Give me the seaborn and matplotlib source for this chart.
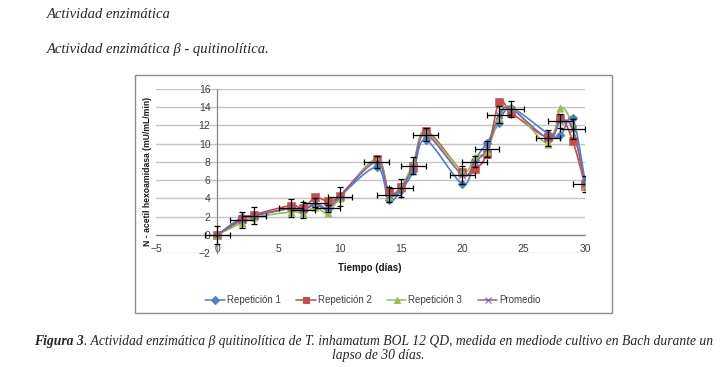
import numpy as np
import pandas as pd
import matplotlib
matplotlib.use("Agg")
import matplotlib.pyplot as plt
import seaborn as sns
from matplotlib.lines import Line2D
from matplotlib.patches import Rectangle

# datos
dias = [0, 2, 3, 6, 7, 8, 9, 10, 13, 14, 15, 16, 17, 20, 21, 22, 23, 24, 27, 28, 29, 30]
rep1 = [0, 1.9, 2.1, 2.9, 2.7, 3.3, 2.8, 4.2, 7.4, 3.8, 4.9, 7.0, 10.4, 5.6, 8.2, 10.1,
        12.3, 13.9, 11.1, 10.9, 12.8, 5.9]
rep2 = [0, 1.7, 2.2, 3.2, 2.9, 4.1, 3.7, 4.3, 8.3, 4.7, 5.2, 7.6, 11.4, 6.9, 7.2, 8.9,
        14.6, 13.4, 10.7, 12.8, 10.3, 5.4]
rep3 = [0, 1.3, 1.9, 2.5, 2.4, 3.0, 2.4, 4.0, 8.3, 4.3, 5.3, 7.9, 11.2, 7.0, 8.5, 9.2,
        12.8, 14.0, 10.0, 13.9, 11.8, 5.5]
promedio = [0, 1.6, 2.1, 2.9, 2.7, 3.5, 2.9, 4.2, 8.0, 4.4, 5.1, 7.6, 11.0, 6.6, 8.0, 9.4,
            13.2, 13.8, 10.6, 12.5, 11.6, 5.6]
err_y = [1.0, 0.9, 0.9, 1.0, 0.9, 0.5, 0.4, 1.0, 0.7, 0.8, 1.0, 0.9, 0.7, 1.0, 0.6, 0.9,
         0.9, 0.9, 0.9, 0.8, 1.1, 0.9]
err_x = [1, 1, 1, 1, 1, 1, 1, 1, 1, 1, 1, 1, 1, 1, 1, 1, 1, 1, 1, 1, 1, 1]

series = ["Repetición 1", "Repetición 2", "Repetición 3", "Promedio"]
colores = ["#4F81BD", "#C0504D", "#9BBB59", "#8064A2"]
marcadores = ["D", "s", "^", "x"]
tamanos = [20, 28, 28, 22]

df = pd.DataFrame({
    "dia": dias * 4,
    "valor": rep1 + rep2 + rep3 + promedio,
    "serie": np.repeat(series, len(dias)),
})


def suavizar(x, y, n=24):
    # curva suavizada tipo Excel (Bezier cubica por tramos)
    x = np.asarray(x, float)
    y = np.asarray(y, float)
    p = np.column_stack([x, y])
    p = np.vstack([p[0], p, p[-1]])
    t = np.linspace(0, 1, n)[:, None]
    out = []
    for i in range(1, len(p) - 2):
        p0, p1, p2, p3 = p[i - 1], p[i], p[i + 1], p[i + 2]
        c1 = p1 + (p2 - p0) / 6
        c2 = p2 - (p3 - p1) / 6
        seg = ((1 - t) ** 3) * p1 + 3 * ((1 - t) ** 2) * t * c1 + 3 * (1 - t) * t ** 2 * c2 + t ** 3 * p2
        out.append(seg)
    out = np.vstack(out)
    return out[:, 0], out[:, 1]


sns.set_style("white")
plt.rcParams["font.family"] = ["Liberation Sans", "DejaVu Sans"]

fig = plt.figure(figsize=(7.25, 3.67), dpi=100)
ax = fig.add_axes([156 / 725, 1 - 253 / 367, (585 - 156) / 725, (253 - 89) / 367])

# marco exterior del grafico
fig.patches.append(Rectangle((135 / 725, 1 - 313 / 367), (612 - 135) / 725, (313 - 75) / 367,
                             transform=fig.transFigure, fill=False, edgecolor="#8c8c8c",
                             linewidth=1.0))

for nombre, col, mk, sz in zip(series, colores, marcadores, tamanos):
    sub = df[df["serie"] == nombre]
    sx, sy = suavizar(sub["dia"], sub["valor"])
    ax.plot(sx, sy, color=col, lw=1.2, zorder=3)
    if mk == "x":
        sns.scatterplot(data=sub, x="dia", y="valor", color=col, marker=mk, s=sz,
                        linewidth=0.9, ax=ax, zorder=4)
    else:
        sns.scatterplot(data=sub, x="dia", y="valor", color=col, marker=mk, s=sz,
                        edgecolor=col, linewidth=0.4, ax=ax, zorder=4)

ax.errorbar(dias, promedio, yerr=err_y, xerr=err_x, fmt="none", ecolor="black",
            elinewidth=0.9, capsize=2.2, capthick=0.9, zorder=5)

ax.set_xlim(-5, 30)
ax.set_ylim(-2, 16)
ax.set_xticks(range(-5, 31, 5))
ax.set_yticks(range(-2, 17, 2))
ax.yaxis.grid(True, color="#c4c4c4", lw=1.0)
ax.set_axisbelow(True)

for s in ["top", "right"]:
    ax.spines[s].set_visible(False)
ax.spines["left"].set_position(("data", 0))
ax.spines["bottom"].set_position(("data", 0))
for s in ["left", "bottom"]:
    ax.spines[s].set_color("#868686")
    ax.spines[s].set_linewidth(0.9)
ax.tick_params(axis="both", labelsize=7.5, colors="#404040", length=3, width=0.8,
               direction="out")
ax.tick_params(axis="x", pad=3.5)
ax.tick_params(axis="y", pad=2)
ax.set_xlabel("")
ax.set_ylabel("")

fig.text(147 / 725, 1 - 171 / 367, "N - acetil hexoamidasa (mU/mL/min)", rotation=90,
         ha="center", va="center", fontsize=6.2, fontweight="bold", color="#1a1a1a")
fig.text(370 / 725, 1 - 268 / 367, "Tiempo (días)", ha="center", va="center",
         fontsize=7.0, fontweight="bold", color="#1a1a1a")

handles = [Line2D([], [], color=c, marker=m, markersize=4.5, lw=1.1, markeredgewidth=0.8)
           for c, m in zip(colores, marcadores)]
fig.legend(handles, series, loc="center", bbox_to_anchor=(373 / 725, 1 - 300 / 367), ncol=4,
           frameon=False, fontsize=7.0, handlelength=2.0, columnspacing=1.6,
           handletextpad=0.2, labelcolor="#404040")

serif = ["Liberation Serif", "DejaVu Serif"]
fig.text(47 / 725, 1 - 14 / 367, "Actividad enzimática", ha="left", va="center",
         fontsize=10.5, style="italic", family=serif)
fig.text(47 / 725, 1 - 49 / 367, "Actividad enzimática β - quitinolítica.", ha="left",
         va="center", fontsize=10.5, style="italic", family=serif)

fig.canvas.draw()
r = fig.canvas.get_renderer()
t1 = fig.text(34 / 725, 1 - 341 / 367, "Figura 3", ha="left", va="center", fontsize=9.8,
              style="italic", fontweight="bold", family=serif)
bb = t1.get_window_extent(renderer=r)
fig.text(bb.x1 / fig.bbox.width, 1 - 341 / 367,
         ". Actividad enzimática β quitinolítica de T. inhamatum BOL 12 QD, medida en mediode "
         "cultivo en Bach durante un", ha="left", va="center", fontsize=9.8, style="italic",
         family=serif)
fig.text(378 / 725, 1 - 356 / 367, "lapso de 30 días.", ha="center", va="center",
         fontsize=9.8, style="italic", family=serif)

fig.savefig("out.png", dpi=100)
